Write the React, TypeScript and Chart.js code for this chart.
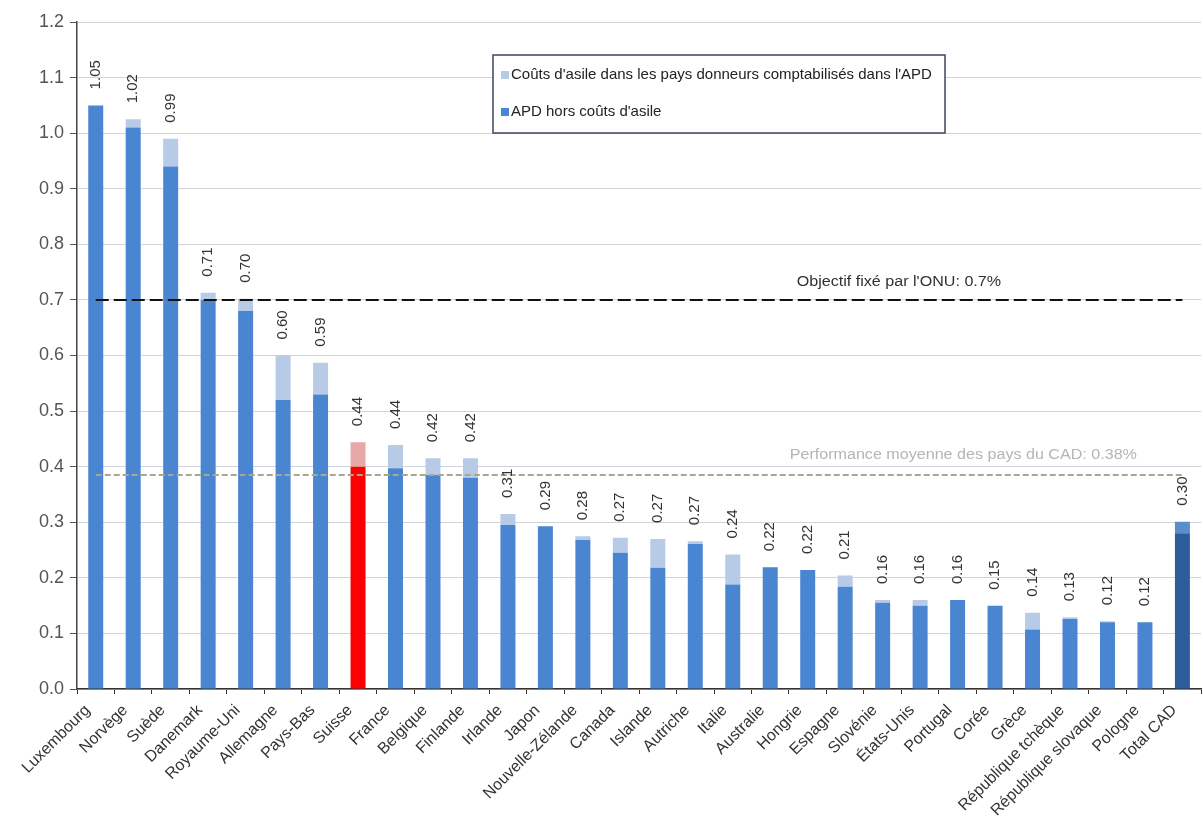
import React, { useEffect, useRef } from "react";
import { Chart, registerables } from "chart.js";

Chart.register(...registerables);

const CATEGORIES = [
  "Luxembourg", "Norvège", "Suède", "Danemark", "Royaume-Uni", "Allemagne", "Pays-Bas",
  "Suisse", "France", "Belgique", "Finlande", "Irlande", "Japon", "Nouvelle-Zélande",
  "Canada", "Islande", "Autriche", "Italie", "Australie", "Hongrie", "Espagne", "Slovénie",
  "États-Unis", "Portugal", "Corée", "Grèce", "République tchèque", "République slovaque",
  "Pologne", "Total CAD",
];

// APD hors coûts d'asile (% RNB)
const BASE = [
  1.05, 1.01, 0.94, 0.70, 0.68, 0.52, 0.53,
  0.40, 0.397, 0.385, 0.38, 0.295, 0.293, 0.268,
  0.245, 0.218, 0.261, 0.188, 0.219, 0.214, 0.184, 0.155,
  0.15, 0.16, 0.15, 0.107, 0.126, 0.12,
  0.12, 0.28,
];

// Coûts d'asile dans les pays donneurs comptabilisés dans l'APD
const ASYLUM = [
  0.0, 0.015, 0.05, 0.013, 0.022, 0.08, 0.057,
  0.044, 0.042, 0.03, 0.035, 0.02, 0.0, 0.007,
  0.027, 0.052, 0.005, 0.054, 0.0, 0.0, 0.02, 0.005,
  0.01, 0.0, 0.0, 0.03, 0.003, 0.002,
  0.0, 0.021,
];

// Displayed totals
const TOTALS = [
  1.05, 1.02, 0.99, 0.71, 0.70, 0.60, 0.59,
  0.44, 0.44, 0.42, 0.42, 0.31, 0.29, 0.28,
  0.27, 0.27, 0.27, 0.24, 0.22, 0.22, 0.21, 0.16,
  0.16, 0.16, 0.15, 0.14, 0.13, 0.12,
  0.12, 0.30,
];

const ONU_TARGET = 0.7;
const DAC_AVERAGE = 0.385;
const ONU_LABEL = "Objectif fixé par l'ONU: 0.7%";
const DAC_LABEL = "Performance moyenne des pays du CAD: 0.38%";
const LEGEND_LABELS = [
  "Coûts d'asile dans les pays donneurs comptabilisés dans l'APD",
  "APD hors coûts d'asile",
];
const HIGHLIGHT = "Suisse";
const TOTAL_NAME = "Total CAD";

const FONT = "Arial, 'Liberation Sans', sans-serif";

const COLORS = {
  base: "#4a85d1",
  asylum: "#b7cbe6",
  highlightBase: "#ff0000",
  highlightAsylum: "#e8a8a8",
  totalBase: "#2d5e9a",
  totalAsylum: "#5b8dcc",
};

const baseColors = CATEGORIES.map((c) =>
  c === HIGHLIGHT ? COLORS.highlightBase : c === TOTAL_NAME ? COLORS.totalBase : COLORS.base
);
const asylumColors = CATEGORIES.map((c) =>
  c === HIGHLIGHT ? COLORS.highlightAsylum : c === TOTAL_NAME ? COLORS.totalAsylum : COLORS.asylum
);

const overlayPlugin = {
  id: "overlay",
  afterDatasetsDraw(chart: any) {
    const { ctx } = chart;
    const x = chart.scales.x;
    const y = chart.scales.y;
    ctx.save();
    // value labels
    ctx.font = `15px ${FONT}`;
    ctx.fillStyle = "#333";
    ctx.textAlign = "left";
    ctx.textBaseline = "middle";
    CATEGORIES.forEach((_, i) => {
      const px = x.getPixelForValue(i);
      const top = y.getPixelForValue(BASE[i] + ASYLUM[i]);
      ctx.save();
      ctx.translate(px, top - 16);
      ctx.rotate(-Math.PI / 2);
      ctx.fillText(TOTALS[i].toFixed(2), 0, 0);
      ctx.restore();
    });
    // reference line labels (slightly widened text, as in the source)
    ctx.font = `14px ${FONT}`;
    ctx.save();
    ctx.translate(x.getPixelForValue(19) - 11, y.getPixelForValue(ONU_TARGET) - 18);
    ctx.scale(1.15, 1);
    ctx.fillStyle = "#333";
    ctx.fillText(ONU_LABEL, 0, 0);
    ctx.restore();
    ctx.save();
    ctx.translate(x.getPixelForValue(19) - 18, y.getPixelForValue(DAC_AVERAGE) - 20);
    ctx.scale(1.15, 1);
    ctx.fillStyle = "#b5b5b5";
    ctx.fillText(DAC_LABEL, 0, 0);
    ctx.restore();

    // legend box
    const bx = 493, by = 55, bw = 452, bh = 78;
    ctx.fillStyle = "#ffffff";
    ctx.fillRect(bx, by, bw, bh);
    ctx.strokeStyle = "#3b4660";
    ctx.lineWidth = 1.5;
    ctx.strokeRect(bx, by, bw, bh);
    ctx.font = `15px ${FONT}`;
    const entries = [
      { label: LEGEND_LABELS[0], color: COLORS.asylum, yy: by + 20 },
      { label: LEGEND_LABELS[1], color: COLORS.base, yy: by + 57 },
    ];
    entries.forEach((e) => {
      ctx.fillStyle = e.color;
      ctx.fillRect(bx + 8, e.yy - 4, 8, 8);
      ctx.fillStyle = "#222";
      ctx.fillText(e.label, bx + 18, e.yy);
    });
    ctx.restore();
  },
};

export default function App() {
  const canvasRef = useRef<HTMLCanvasElement | null>(null);

  useEffect(() => {
    document.body.style.margin = "0";
    const canvas = canvasRef.current;
    if (!canvas) return;
    const chart = new Chart(canvas, {
      type: "bar",
      data: {
        labels: CATEGORIES,
        datasets: [
          {
            type: "line",
            label: "onu",
            data: CATEGORIES.map(() => ONU_TARGET),
            borderColor: "#111111",
            borderWidth: 2,
            borderDash: [13, 5],
            pointRadius: 0,
            fill: false,
            stack: "onu",
            order: 0,
          } as any,
          {
            type: "line",
            label: "dac",
            data: CATEGORIES.map(() => DAC_AVERAGE),
            borderColor: "#aaa78f",
            borderWidth: 2,
            borderDash: [6, 3],
            pointRadius: 0,
            fill: false,
            stack: "dac",
            order: 0,
          } as any,
          {
            label: LEGEND_LABELS[1],
            data: BASE,
            backgroundColor: baseColors,
            stack: "bars",
            barPercentage: 0.4,
            categoryPercentage: 1,
            order: 1,
          },
          {
            label: LEGEND_LABELS[0],
            data: ASYLUM,
            backgroundColor: asylumColors,
            stack: "bars",
            barPercentage: 0.4,
            categoryPercentage: 1,
            order: 1,
          },
        ],
      },
      options: {
        animation: false,
        responsive: true,
        maintainAspectRatio: false,
        layout: { padding: { top: 22, right: 0, left: 0, bottom: 0 } },
        plugins: {
          legend: { display: false },
          tooltip: { enabled: false },
        },
        scales: {
          x: {
            stacked: true,
            offset: true,
            grid: {
              display: true,
              drawOnChartArea: false,
              drawTicks: true,
              tickLength: 5,
              tickColor: "#333",
              offset: true,
            },
            border: { color: "#333", width: 1.5 },
            ticks: {
              autoSkip: false,
              maxRotation: 45,
              minRotation: 45,
              padding: 7,
              labelOffset: -8,
              color: "#333",
              font: { family: FONT, size: 16 },
            },
            afterFit: (scale: any) => {
              scale.height = 143;
            },
          },
          y: {
            stacked: true,
            min: 0,
            max: 1.2,
            ticks: {
              stepSize: 0.1,
              color: "#555",
              padding: 6,
              font: { family: FONT, size: 18 },
              callback: (v: any) => Number(v).toFixed(1),
            },
            grid: {
              color: "#cfd3da",
              lineWidth: 1,
              drawTicks: true,
              tickLength: 7,
              tickColor: "#555",
            },
            border: { color: "#444", width: 1.5 },
            afterFit: (scale: any) => {
              scale.width = 77;
            },
          },
        },
      },
      plugins: [overlayPlugin],
    });
    return () => chart.destroy();
  }, []);

  return (
    <div style={{ width: 1203, height: 832, position: "relative" }}>
      <canvas ref={canvasRef} />
    </div>
  );
}
